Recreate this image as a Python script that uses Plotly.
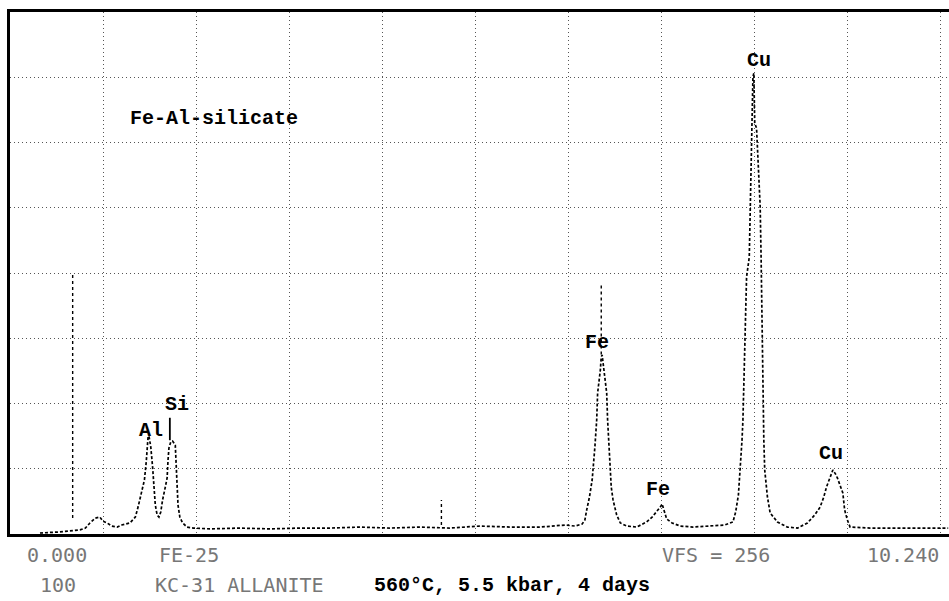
import plotly.graph_objects as go

# EDS spectrum of the Fe-Al-silicate: energy (keV) vs. counts (full scale 256)
energy_kev = [
    0.33, 0.55, 0.77, 0.83, 0.88, 0.94, 0.99, 1.02, 1.07, 1.12, 1.18, 1.23, 1.32,
    1.38, 1.41, 1.45, 1.48, 1.50, 1.51, 1.52, 1.53, 1.55, 1.57, 1.59, 1.60, 1.62,
    1.64, 1.66, 1.68, 1.71, 1.73, 1.74, 1.75, 1.77, 1.79, 1.82, 1.83, 1.84, 1.85,
    1.87, 1.90, 1.95, 2.02, 2.20, 2.53, 2.86, 3.19, 3.52, 3.85, 4.18, 4.51, 4.84,
    5.17, 5.51, 5.84, 6.11, 6.22, 6.30, 6.33, 6.35, 6.38, 6.41, 6.43, 6.44, 6.46,
    6.47, 6.50, 6.51, 6.52, 6.53, 6.55, 6.57, 6.58, 6.60, 6.61, 6.62, 6.64, 6.68,
    6.72, 6.79, 6.90, 7.01, 7.07, 7.12, 7.16, 7.18, 7.20, 7.23, 7.29, 7.38, 7.52,
    7.71, 7.87, 7.96, 7.99, 8.02, 8.04, 8.06, 8.07, 8.08, 8.09, 8.11, 8.14, 8.15,
    8.16, 8.17, 8.18, 8.19, 8.20, 8.22, 8.24, 8.26, 8.27, 8.28, 8.29, 8.30, 8.31,
    8.34, 8.37, 8.45, 8.56, 8.67, 8.78, 8.86, 8.92, 8.96, 8.99, 9.03, 9.06, 9.09,
    9.11, 9.15, 9.17, 9.19, 9.22, 9.25, 9.47, 9.80, 10.13, 10.33,
]
counts = [
    0.5, 1.0, 2.0, 2.9, 5.4, 7.8, 8.3, 6.4, 5.4, 3.9, 3.4, 4.4, 5.4,
    8.3, 13.2, 20.1, 26.5, 35.3, 42.7, 47.6, 48.1, 42.7, 32.9, 23.0, 14.2, 9.3,
    8.3, 10.8, 16.7, 23.0, 27.5, 36.3, 42.2, 45.1, 45.6, 43.6, 32.9, 23.0, 14.2,
    8.3, 5.4, 3.4, 2.9, 2.5, 2.9, 2.5, 2.9, 2.9, 3.4, 2.9, 3.4, 2.9,
    3.9, 3.4, 3.4, 4.4, 3.9, 4.9, 6.9, 11.8, 18.1, 26.5, 35.3, 42.7, 55.9,
    69.1, 80.4, 86.8, 87.8, 83.4, 75.5, 69.1, 55.9, 41.2, 30.4, 23.0, 16.7, 9.3,
    5.4, 3.9, 3.4, 5.9, 8.3, 10.8, 13.2, 14.7, 11.8, 7.4, 5.4, 3.9, 3.4,
    3.9, 4.4, 5.9, 10.8, 19.1, 31.4, 46.1, 55.9, 75.5, 95.1, 126.0, 135.8, 158.9,
    178.5, 199.5, 224.0, 226.0, 201.5, 199.0, 179.5, 160.5, 136.0, 100.0, 70.6, 46.1, 31.4,
    18.1, 10.3, 5.9, 3.4, 2.9, 5.4, 9.3, 13.2, 18.1, 23.0, 27.9, 31.4, 29.4,
    27.5, 22.6, 20.1, 11.8, 6.9, 3.4, 2.9, 2.9, 2.9, 2.9,
]

# Cursor / line markers: energy, lower and upper count of each bar
marker_kev = [0.69, 4.75, 6.51]
marker_lo = [7.8, 4.4, 88.0]
marker_hi = [128.5, 16.7, 122.0]
si_marker_kev = [1.76, 1.76]
si_marker_counts = [46.0, 57.0]

# Peak labels
peak_labels = ["Al", "Si", "Fe", "Fe", "Cu", "Cu"]
peak_label_kev = [1.55, 1.84, 6.46, 7.13, 8.25, 9.04]
peak_label_counts = [51.0, 63.3, 93.7, 21.6, 232.0, 39.7]

# Scale settings
E_MIN, E_MAX = 0.0, 10.24
E_DIV = 1.024
VFS = 256
V_DIV = 32

fig = go.Figure()

fig.add_trace(go.Scatter(
    x=energy_kev, y=counts, mode="lines",
    line=dict(color="black", width=1.7, dash="3px,2px"),
    hoverinfo="skip", showlegend=False,
))

mx, my = [], []
for e, lo, hi in zip(marker_kev, marker_lo, marker_hi):
    mx += [e, e, None]
    my += [lo, hi, None]
fig.add_trace(go.Scatter(
    x=mx, y=my, mode="lines",
    line=dict(color="black", width=1.4, dash="3px,3px"),
    hoverinfo="skip", showlegend=False,
))
fig.add_trace(go.Scatter(
    x=si_marker_kev, y=si_marker_counts, mode="lines",
    line=dict(color="black", width=1.8),
    hoverinfo="skip", showlegend=False,
))

typewriter = dict(family="Liberation Mono", size=20, color="black", weight="bold")
for lab, e, c in zip(peak_labels, peak_label_kev, peak_label_counts):
    fig.add_annotation(x=e, y=c, xref="x", yref="y", text=lab, showarrow=False,
                       font=typewriter, xanchor="center", yanchor="middle")

fig.add_annotation(x=2.25, y=204, xref="x", yref="y", text="Fe-Al-silicate",
                   showarrow=False, font=typewriter, xanchor="center", yanchor="middle")

# Instrument readout below the axis
lcd = dict(family="DejaVu Sans Mono", size=20, color="#777777")
readout = [
    ("0.000", 0.165, -0.040, "left"),
    ("FE-25", 1.62, -0.040, "left"),
    ("VFS = 256", 7.16, -0.040, "left"),
    ("10.240", 10.25, -0.040, "right"),
    ("100", 0.31, -0.098, "left"),
    ("KC-31 ALLANITE", 1.57, -0.098, "left"),
]
for txt, e, yp, anchor in readout:
    fig.add_annotation(x=e, y=yp, xref="x", yref="paper", text=txt, showarrow=False,
                       font=lcd, xanchor=anchor, yanchor="middle")
fig.add_annotation(x=3.99, y=-0.098, xref="x", yref="paper",
                   text="560°C, 5.5 kbar, 4 days", showarrow=False,
                   font=typewriter, xanchor="left", yanchor="middle")

fig.update_xaxes(
    range=[E_MIN, 10.339], tick0=0, dtick=E_DIV,
    showgrid=True, gridcolor="#555555", gridwidth=1, griddash="1px,3px",
    showline=True, linecolor="black", linewidth=2.5, mirror=True,
    showticklabels=False, ticks="", zeroline=False,
)
fig.update_yaxes(
    range=[0, VFS], tick0=0, dtick=V_DIV,
    showgrid=True, gridcolor="#555555", gridwidth=1, griddash="1px,3px",
    showline=True, linecolor="black", linewidth=2.5, mirror=False,
    showticklabels=False, ticks="", zeroline=False,
)

fig.update_layout(
    width=949, height=601,
    margin=dict(l=10, r=0, t=12, b=67),
    paper_bgcolor="white", plot_bgcolor="white",
    showlegend=False,
)

fig.write_html("out.html")
